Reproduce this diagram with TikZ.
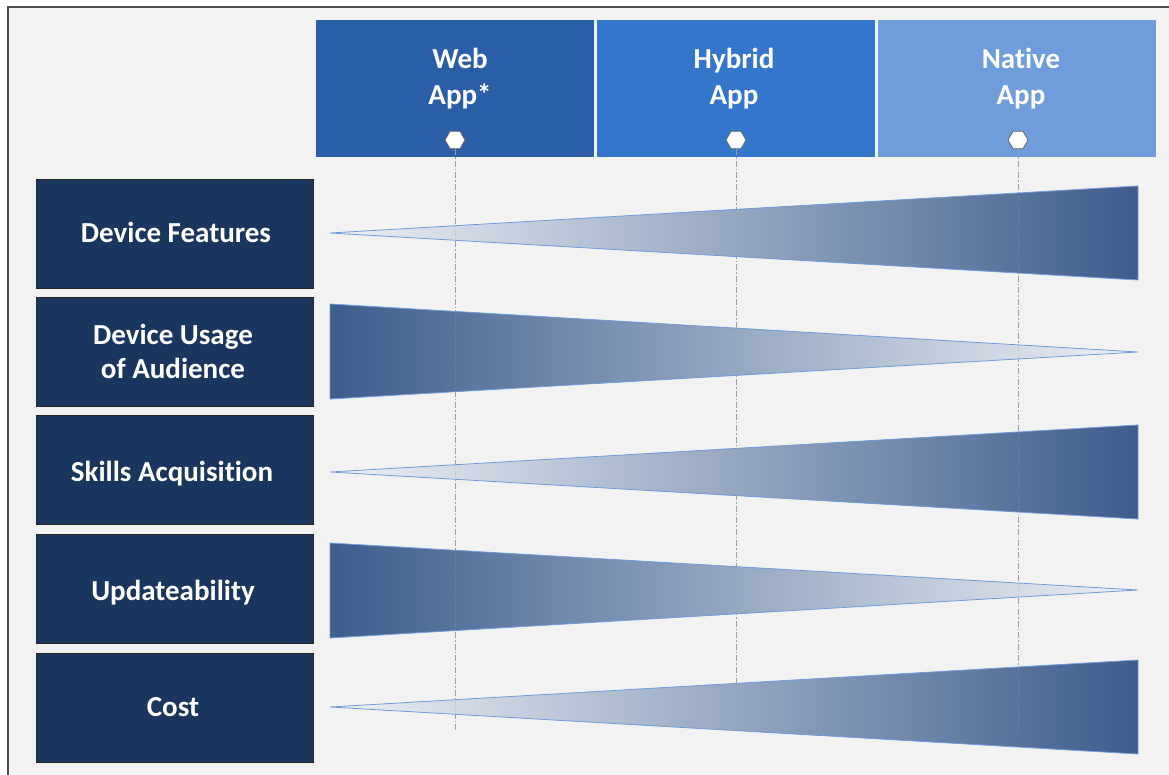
\documentclass[tikz,border=0pt]{standalone}
\usepackage{fontspec}
\setmainfont{Carlito}[Ligatures={NoCommon,NoContextual}]
\usetikzlibrary{shapes.geometric}
\definecolor{bgray}{HTML}{F2F2F2}
\definecolor{navy}{HTML}{1A365E}
\definecolor{webc}{HTML}{2A5EA6}
\definecolor{hybc}{HTML}{3476CC}
\definecolor{natc}{HTML}{6F9DDB}
\definecolor{tipc}{HTML}{EEF1F6}
\definecolor{basec}{HTML}{3D5D8C}
\definecolor{edgec}{HTML}{6E9BDB}
\begin{document}
\begin{tikzpicture}[x=1pt,y=-1pt,
  rowbox/.style={draw=black!85,line width=0.8pt,fill=navy,minimum width=277pt,minimum height=109pt,inner sep=0pt},
  rowtext/.style={text=white,font=\bfseries\fontsize{29}{34}\selectfont,align=center,inner sep=0pt},
  headbox/.style={minimum width=278pt,minimum height=137pt,inner sep=0pt},
  headtext/.style={text=white,font=\bfseries\fontsize{29}{36}\selectfont,align=center,inner sep=0pt},
  hexa/.style={regular polygon,regular polygon sides=6,minimum size=20pt,inner sep=0pt,fill=white,draw=gray!80!black,line width=0.8pt},
  guide/.style={draw=gray!75,line width=1pt,dash pattern=on 6pt off 2pt on 1.5pt off 2pt},
  wedge/.style={draw=edgec,line width=0.8pt,line join=miter}]
\useasboundingbox (0,0) rectangle (1169,775);
\fill[white] (0,0) rectangle (1169,775);
\fill[bgray] (8,7) rectangle (1169,775);
\draw[gray!60!black,line width=1.2pt] (8,780) -- (8,7) -- (1175,7);
% headers
\node[headbox,fill=webc] (web) at (455,88.5) {};
\node[headbox,fill=hybc] (hyb) at (736,88.5) {};
\node[headbox,fill=natc] (nat) at (1016.5,88.5) {};
\node[headtext] (webt) at (460,78.5) {Web\\App*};
\node[headtext] (hybt) at (734,78.5) {Hybrid\\App};
\node[headtext] (natt) at (1021,78.5) {Native\\App};
\node[hexa] (h1) at (455,140) {};
\node[hexa] (h2) at (736,140) {};
\node[hexa] (h3) at (1018,140) {};
\coordinate (e1) at (455,732);
\coordinate (e2) at (736,732);
\coordinate (e3) at (1018,732);
\draw[guide] (h1.south) -- (e1);
\draw[guide] (h2.south) -- (e2);
\draw[guide] (h3.south) -- (e3);
% left boxes
\node[rowbox] (r1) at (174.5,233.5) {};
\node[rowbox] (r2) at (174.5,351.5) {};
\node[rowbox] (r3) at (174.5,470) {};
\node[rowbox] (r4) at (174.5,588.5) {};
\node[rowbox] (r5) at (174.5,707.5) {};
\node[rowtext] (t1) at (176,232.5) {Device Features};
\node[rowtext] (t2) at (173,351) {Device Usage\\of Audience};
\node[rowtext] (t3) at (172,474) {Skills Acquisition};
\node[rowtext] (t4) at (173,592.5) {Updateability};
\node[rowtext] (t5) at (173,707) {Cost};
% wedges
\shade[left color=tipc,right color=basec] (330,233) -- (1138,186) -- (1138,280) -- cycle;
\draw[wedge] (330,233) -- (1138,186) -- (1138,280) -- cycle;
\shade[left color=basec,right color=tipc] (330,304) -- (1138,352) -- (330,399) -- cycle;
\draw[wedge] (330,304) -- (1138,352) -- (330,399) -- cycle;
\shade[left color=tipc,right color=basec] (330,472) -- (1138,425) -- (1138,519) -- cycle;
\draw[wedge] (330,472) -- (1138,425) -- (1138,519) -- cycle;
\shade[left color=basec,right color=tipc] (330,543) -- (1138,590) -- (330,638) -- cycle;
\draw[wedge] (330,543) -- (1138,590) -- (330,638) -- cycle;
\shade[left color=tipc,right color=basec] (330,707) -- (1138,660) -- (1138,754) -- cycle;
\draw[wedge] (330,707) -- (1138,660) -- (1138,754) -- cycle;
% guides faintly through wedges
\draw[guide,draw opacity=0.3] (h1.south) -- (e1);
\draw[guide,draw opacity=0.3] (h2.south) -- (e2);
\draw[guide,draw opacity=0.3] (h3.south) -- (e3);
\end{tikzpicture}
\end{document}
